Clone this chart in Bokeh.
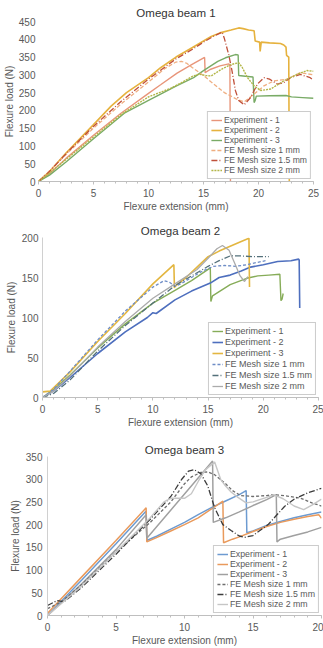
from bokeh.plotting import figure
from bokeh.layouts import column
from bokeh.models import Range1d, Legend, LegendItem, SingleIntervalTicker
from bokeh.embed import file_html
from bokeh.resources import INLINE

LABELS = ["Experiment - 1", "Experiment - 2", "Experiment - 3",
          "FE Mesh size 1 mm", "FE Mesh size 1.5 mm", "FE Mesh size 2 mm"]

# ---------------- Omega beam 1 ----------------
B1_EXP1_X = [0, 1, 2.5, 5, 7.5, 10, 11.1, 12.6, 14, 15.1, 15.15, 15.6, 16.5, 17.3, 17.4, 17.45]
B1_EXP1_Y = [0, 22, 65, 130, 192, 248, 272, 305, 330, 349, 306, 315, 325, 331, 325, 0]
B1_EXP2_X = [0, 1, 2.5, 5, 6.6, 8, 10, 11.1, 12.5, 14, 15, 15.7, 16.5, 17.5, 18.2, 18.6, 19.1, 19.6,
             19.7, 20.1, 20.15, 20.25, 21, 22, 22.3, 22.5, 22.55, 22.75, 22.8]
B1_EXP2_Y = [0, 28, 80, 160, 212, 250, 292, 320, 350, 377, 395, 408, 418, 426, 432, 430, 426, 424,
             395, 392, 366, 392, 390, 388, 384, 378, 355, 350, 0]
B1_EXP3_X = [0, 1, 2.5, 5, 7.8, 10, 11.1, 12.5, 14.1, 15, 16.3, 17, 17.9, 18.15, 18.2, 18.8, 19.5,
             19.6, 19.7, 19.8, 21, 22.5, 23, 24, 25]
B1_EXP3_Y = [0, 18, 55, 120, 192, 228, 246, 268, 292, 312, 338, 348, 357, 356, 298, 296, 294,
             222, 228, 240, 241, 242, 238, 236, 234]
B1_FE1_X = [0, 1, 2.5, 5, 7.5, 10, 11.5, 12.5, 13, 13.5, 14, 15, 15.7, 16.9, 18.1, 18.7, 19.6,
            20.5, 21.4, 22.6, 23.8, 25]
B1_FE1_Y = [0, 30, 76, 150, 218, 280, 318, 336, 338, 332, 320, 298, 280, 250, 230, 224, 246,
            269, 283, 288, 306, 300]
B1_FE15_X = [0, 1, 2.5, 5, 7.5, 10, 12.5, 14, 15, 16, 16.7, 16.9, 17.3, 17.6, 17.9, 18.2, 18.7,
             19.3, 19.9, 20.5, 21, 21.7, 22.3, 22.9, 23.8, 24.7, 25]
B1_FE15_Y = [0, 28, 78, 155, 225, 288, 345, 372, 392, 410, 420, 402, 356, 310, 256, 228, 216,
             237, 274, 292, 288, 274, 278, 292, 301, 292, 285]
B1_FE2_X = [0, 1, 2.5, 5, 7.5, 10, 11, 12, 13, 14, 14.6, 15.2, 15.7, 16.6, 17.5, 18.2, 18.5, 19,
            19.6, 20.2, 21.1, 22.3, 23.5, 24.4, 25]
B1_FE2_Y = [0, 24, 62, 125, 188, 238, 250, 262, 278, 296, 302, 298, 297, 315, 329, 334, 322, 292,
            269, 256, 260, 283, 301, 312, 310]

# ---------------- Omega beam 2 ----------------
B2_EXP1_X = [0, 1, 2.5, 5, 7.5, 10, 12, 13.5, 15.2, 15.25, 15.4, 17, 18.5, 19.5, 20.5, 21.5, 21.6, 21.7, 21.8]
B2_EXP1_Y = [0, 10, 28, 62, 92, 118, 134, 146, 162, 120, 127, 141, 149, 152, 153, 154, 121, 123, 130]
B2_EXP2_X = [0, 1, 2.5, 5, 7.5, 9.5, 10, 10.3, 12, 13.5, 15.2, 16, 17, 18, 18.85, 20, 21.3, 22.5,
             23.2, 23.25, 23.3]
B2_EXP2_Y = [0, 8, 25, 55, 82, 100, 106, 105, 122, 133, 143, 150, 153, 158, 163, 166, 170, 171,
             173, 172, 112]
B2_EXP3_X = [0, 0.7, 2.5, 5, 7.5, 10, 11.9, 11.95, 12, 13, 14, 15, 16, 17, 18, 18.7, 18.75]
B2_EXP3_Y = [7, 8, 32, 70, 105, 142, 166, 137, 139, 150, 163, 176, 183, 189, 195, 199, 138]
B2_FE1_X = [0, 1, 2.5, 5, 7.5, 10, 11, 11.5, 12, 12.5, 13.5, 14.5, 15.5, 16.5, 17.5, 18.5, 19.5, 20.2]
B2_FE1_Y = [0, 10, 33, 72, 108, 138, 146, 144, 139, 142, 150, 158, 164, 165, 164, 166, 169, 171]
B2_FE15_X = [0, 1, 2.5, 5, 7.5, 10, 12, 13.5, 15, 16, 17, 18, 19, 20.5]
B2_FE15_Y = [0, 5, 22, 58, 90, 118, 140, 152, 164, 171, 177, 177, 176, 176]
B2_FE2_X = [0, 1, 2.5, 5, 7.5, 10, 12, 14, 15, 15.8, 16.3, 16.9, 17.4, 17.9, 18.3, 18.6]
B2_FE2_Y = [0, 8, 27, 63, 95, 124, 142, 160, 174, 186, 190, 184, 168, 152, 145, 151]

# ---------------- Omega beam 3 ----------------
B3_EXP1_X = [0, 2.5, 5, 7.2, 7.25, 8, 9, 10, 11, 12, 13, 14, 14.5, 14.55, 15, 16, 17, 18, 19, 20]
B3_EXP1_Y = [0, 78, 158, 230, 165, 175, 190, 205, 222, 238, 252, 266, 275, 182, 186, 198, 207, 215, 222, 228]
B3_EXP2_X = [0, 2.5, 5, 7.2, 7.25, 8, 9, 10, 11, 12, 12.8, 12.85, 13.5, 14, 15, 16, 17, 18, 19, 19.8, 20]
B3_EXP2_Y = [5, 85, 165, 237, 162, 172, 186, 200, 215, 235, 252, 160, 168, 173, 185, 196, 205, 212, 218, 222, 214]
B3_EXP3_X = [0, 2.5, 5, 7.2, 7.25, 12.05, 12.1, 13, 14, 15, 16, 16.7, 16.75, 17, 18, 19, 20]
B3_EXP3_Y = [0, 70, 145, 222, 170, 340, 205, 215, 228, 242, 255, 266, 162, 168, 176, 184, 194]
B3_FE1_X = [0, 1, 2.5, 5, 7.5, 9, 10, 10.5, 11.2, 11.7, 12.2, 13, 13.5, 14.1, 15, 16, 16.5, 17.5,
            18.5, 19.3, 20]
B3_FE1_Y = [15, 30, 68, 140, 205, 250, 290, 305, 315, 316, 310, 290, 275, 264, 262, 264, 266, 263,
            258, 248, 241]
B3_FE15_X = [0, 0.7, 1.2, 2.5, 5, 7.5, 9, 9.8, 10.3, 10.7, 11.2, 11.7, 12.2, 12.8, 13.4, 14, 14.4,
             15, 16.1, 17.3, 18, 19, 20]
B3_FE15_Y = [22, 33, 30, 62, 135, 212, 262, 300, 318, 321, 312, 285, 237, 200, 187, 175, 172,
             176, 200, 240, 256, 270, 280]
B3_FE2_X = [0, 2.5, 5, 7.5, 8.5, 9, 10, 10.5, 11, 11.5, 12.2, 12.65, 13, 13.4, 13.9, 14.5, 15, 16,
            16.5, 17.2, 18, 18.7, 19.3, 20]
B3_FE2_Y = [0, 65, 140, 215, 250, 258, 258, 268, 295, 320, 338, 299, 285, 272, 260, 248, 250, 260,
            266, 257, 241, 233, 243, 256]

AXIS_FONT = "Liberation Sans"
LEG_FONT = "Liberation Sans"
TXT = "#595959"


def make_panel(title, x_end, y_end, series, height, bl, br, bt, bb,
               title_standoff, title_offset, ytick_standoff, ylabel_standoff,
               leg_font_size, leg_spacing, yaxis_line):
    p = figure(width=323, height=height, x_range=Range1d(0, x_end), y_range=Range1d(0, y_end),
               output_backend="svg", toolbar_location=None,
               min_border_left=bl, min_border_right=br, min_border_top=bt, min_border_bottom=bb)
    p.outline_line_color = None
    p.xgrid.visible = False
    p.ygrid.visible = False
    p.background_fill_color = "white"
    p.border_fill_color = "white"

    p.title.text = title
    p.title.align = "center"
    p.title.text_font = AXIS_FONT
    p.title.text_font_size = "11.5px"
    p.title.text_font_style = "normal"
    p.title.text_color = "#333333"
    p.title.standoff = title_standoff
    p.title.offset = title_offset

    xa = p.xaxis[0]
    xa.ticker = SingleIntervalTicker(interval=5, num_minor_ticks=5)
    xa.axis_label = "Flexure extension (mm)"
    xa.axis_label_text_font = AXIS_FONT
    xa.axis_label_text_font_size = "10px"
    xa.axis_label_text_font_style = "normal"
    xa.axis_label_text_color = TXT
    xa.axis_label_standoff = 1
    xa.major_label_text_font = AXIS_FONT
    xa.major_label_text_font_size = "10px"
    xa.major_label_text_color = TXT
    xa.major_label_standoff = 4
    xa.axis_line_color = "#BFBFBF"
    xa.major_tick_line_color = "#BFBFBF"
    xa.minor_tick_line_color = "#BFBFBF"
    xa.major_tick_in = 0
    xa.major_tick_out = 3
    xa.minor_tick_in = 0
    xa.minor_tick_out = 2

    ya = p.yaxis[0]
    ya.ticker = SingleIntervalTicker(interval=50, num_minor_ticks=0)
    ya.axis_label = "Flexure load (N)"
    ya.axis_label_text_font = AXIS_FONT
    ya.axis_label_text_font_size = "10px"
    ya.axis_label_text_font_style = "normal"
    ya.axis_label_text_color = TXT
    ya.axis_label_standoff = ylabel_standoff
    ya.major_label_text_font = AXIS_FONT
    ya.major_label_text_font_size = "10px"
    ya.major_label_text_color = TXT
    ya.major_label_standoff = ytick_standoff
    ya.axis_line_color = "#D0D0D0" if yaxis_line else None
    ya.major_tick_line_color = None
    ya.minor_tick_line_color = None
    ya.major_tick_in = 0
    ya.major_tick_out = 0
    ya.minor_tick_in = 0
    ya.minor_tick_out = 0

    renderers = []
    for xs, ys, color, dash, width in series:
        r = p.line(xs, ys, line_color=color, line_width=width, line_dash=dash)
        renderers.append(r)

    items = [LegendItem(label=lab, renderers=[r]) for lab, r in zip(LABELS, renderers)]
    leg = Legend(items=items, location="bottom_right")
    leg.label_text_font = LEG_FONT
    leg.label_text_font_size = leg_font_size
    leg.label_text_color = "#595959"
    leg.label_text_line_height = 1.0
    leg.label_height = 6
    leg.glyph_height = 6
    leg.glyph_width = 11
    leg.label_standoff = 2
    leg.spacing = leg_spacing
    leg.padding = 3
    leg.margin = 2
    leg.border_line_color = "#9A9A9A"
    leg.border_line_width = 1
    leg.background_fill_color = "white"
    leg.background_fill_alpha = 1.0
    p.add_layout(leg)
    return p


s1 = [
    (B1_EXP1_X, B1_EXP1_Y, "#E8957A", "solid", 1.4),
    (B1_EXP2_X, B1_EXP2_Y, "#E6B23E", "solid", 1.6),
    (B1_EXP3_X, B1_EXP3_Y, "#79AB66", "solid", 1.4),
    (B1_FE1_X, B1_FE1_Y, "#EFAE80", "4 2", 1.3),
    (B1_FE15_X, B1_FE15_Y, "#C0503A", "6 2 1 2", 1.3),
    (B1_FE2_X, B1_FE2_Y, "#B3B648", "2 1", 1.4),
]
s2 = [
    (B2_EXP1_X, B2_EXP1_Y, "#86AC58", "solid", 1.4),
    (B2_EXP2_X, B2_EXP2_Y, "#4E6FBE", "solid", 1.6),
    (B2_EXP3_X, B2_EXP3_Y, "#E3B640", "solid", 1.6),
    (B2_FE1_X, B2_FE1_Y, "#6E8DC6", "3 2", 1.3),
    (B2_FE15_X, B2_FE15_Y, "#53707A", "6 2 1 2", 1.3),
    (B2_FE2_X, B2_FE2_Y, "#ABABAB", "solid", 1.3),
]
s3 = [
    (B3_EXP1_X, B3_EXP1_Y, "#6D9BD1", "solid", 1.5),
    (B3_EXP2_X, B3_EXP2_Y, "#E99A5C", "solid", 1.5),
    (B3_EXP3_X, B3_EXP3_Y, "#A0A0A0", "solid", 1.5),
    (B3_FE1_X, B3_FE1_Y, "#6E6E6E", "3 2", 1.3),
    (B3_FE15_X, B3_FE15_Y, "#3C3C3C", "6 2 1 2", 1.3),
    (B3_FE2_X, B3_FE2_Y, "#C6C6C6", "solid", 1.4),
]

p1 = make_panel("Omega beam 1", 25, 450, s1, 214, 38, 10, 21, 29, 5, 0, 3, 1, "8.6px", 0, False)
p2 = make_panel("Omega beam 2", 25, 200, s2, 216, 42, 5, 23, 28, 2, 0, 4, 2, "9px", 1, True)
p3 = make_panel("Omega beam 3", 20, 350, s3, 218, 47, 2, 26, 29, 1, 6, 5, 2, "8.8px", 0, True)

layout = column(column(p1), column(p2), column(p3), spacing=0)
open("out.html", "w").write(file_html(layout, INLINE))
